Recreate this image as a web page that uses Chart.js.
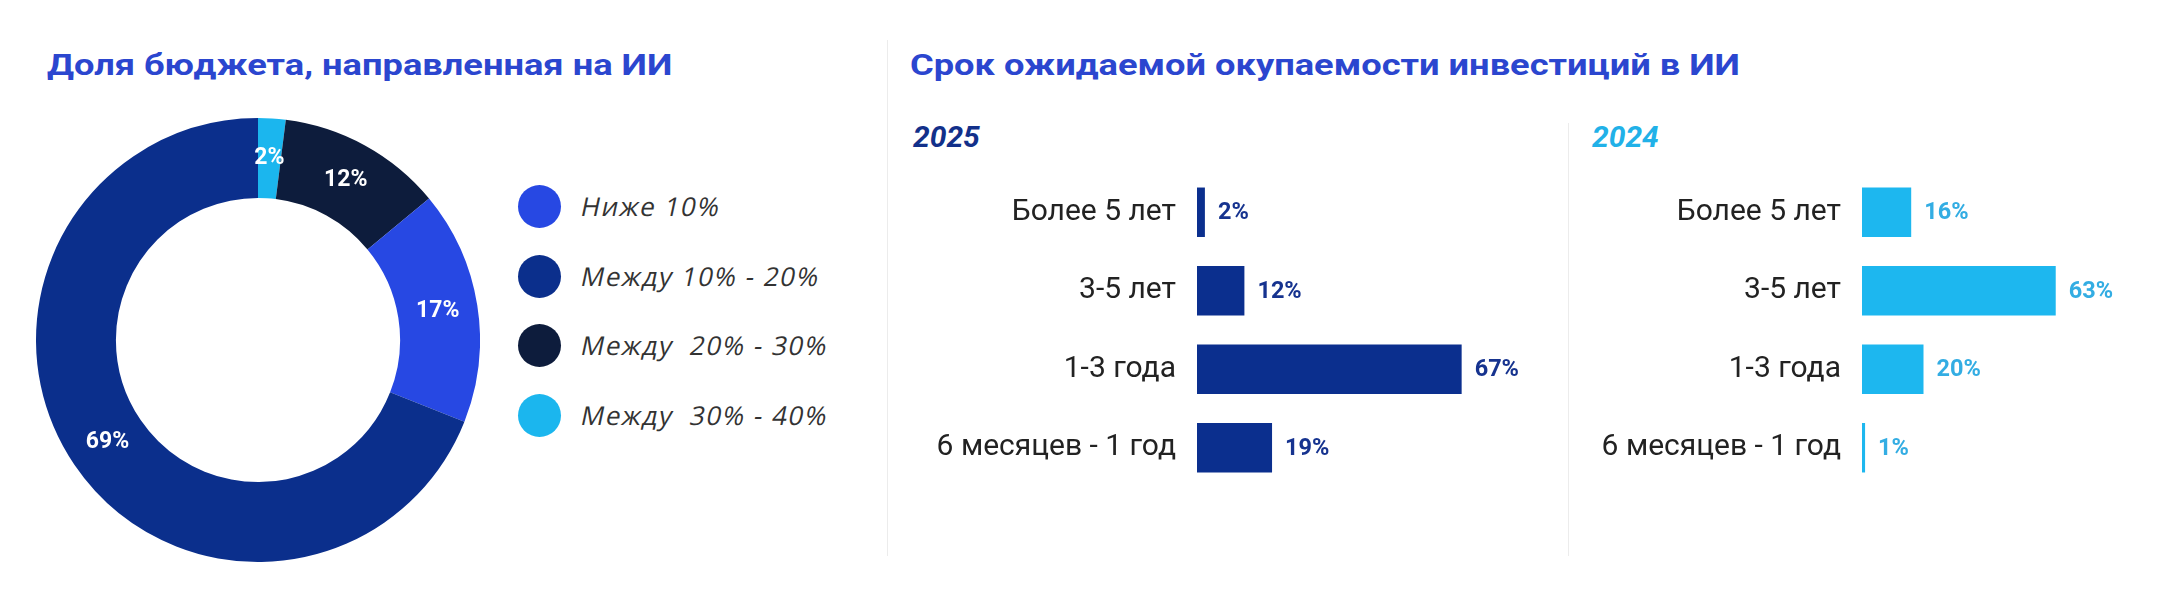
<!DOCTYPE html>
<html lang="ru">
<head>
<meta charset="utf-8">
<title>ИИ: бюджет и окупаемость</title>
<script src="https://cdn.jsdelivr.net/npm/chart.js@4.4.1/dist/chart.umd.min.js"></script>
<style>
  html, body { margin: 0; padding: 0; background: #fff; }
  body { width: 2160px; height: 603px; position: relative; overflow: hidden; font-family: Roboto, "Liberation Sans", sans-serif; }
  .title { position: absolute; font-weight: bold; font-size: 29px; line-height: 29px; color: #2b46cf; white-space: nowrap; transform: scaleX(1.25); transform-origin: left center; }
  .year { position: absolute; font-weight: bold; font-style: italic; font-size: 30px; line-height: 30px; white-space: nowrap; }
  .divider { position: absolute; width: 1px; background: #ececec; }
  canvas { position: absolute; }
  #legend { position: absolute; left: 518px; top: 185px; margin: 0; padding: 0; list-style: none; }
  #legend li { height: 69.5px; display: flex; align-items: flex-start; }
  #legend span.dot { width: 43px; height: 43px; border-radius: 50%; display: inline-block; }
  #legend span.txt { display: inline-block; margin-left: 16px; font-family: "Open Sans", Lato, sans-serif; font-size: 26px; line-height: 43px; color: #333; white-space: pre; letter-spacing: 1.5px; transform: skewX(-12deg); transform-origin: left bottom; }
</style>
</head>
<body>
<div class="title" style="left:47px; top:51px;">Доля бюджета, направленная на ИИ</div>
<div class="title" style="left:910px; top:51px;">Срок ожидаемой окупаемости инвестиций в ИИ</div>
<div class="divider" style="left:887px; top:40px; height:516px;"></div>
<div class="divider" style="left:1568px; top:123px; height:433px;"></div>
<div class="year" style="left:913px; top:122px; color:#12308a;">2025</div>
<div class="year" style="left:1592px; top:122px; color:#21b1e8;">2024</div>

<canvas id="donut" width="444" height="444" style="left:36px; top:118px;"></canvas>
<ul id="legend"></ul>
<canvas id="bars2025" width="663" height="340" style="left:890px; top:160px;"></canvas>
<canvas id="bars2024" width="583" height="340" style="left:1570px; top:160px;"></canvas>

<script>
// доля бюджета (по часовой стрелке от 12 часов)
const budgetLabels = ["Между  30% - 40%", "Между  20% - 30%", "Ниже 10%", "Между 10% - 20%"];
const budgetValues = [2, 12, 17, 69];
const budgetColors = ["#1bb6ee", "#0d1c3c", "#2748e3", "#0b2f8c"];
const legendOrder = ["Ниже 10%", "Между 10% - 20%", "Между  20% - 30%", "Между  30% - 40%"];

// срок окупаемости
const paybackLabels = ["Более 5 лет", "3-5 лет", "1-3 года", "6 месяцев - 1 год"];
const values2025 = [2, 12, 67, 19];
const values2024 = [16, 63, 20, 1];

// легенда
const legendEl = document.getElementById("legend");
legendOrder.forEach(name => {
  const i = budgetLabels.indexOf(name);
  const li = document.createElement("li");
  li.innerHTML = `<span class="dot" style="background:${budgetColors[i]}"></span><span class="txt"></span>`;
  li.querySelector(".txt").textContent = name;
  legendEl.appendChild(li);
});

const arcLabels = {
  id: "arcLabels",
  afterDatasetsDraw(chart) {
    const ctx = chart.ctx;
    const meta = chart.getDatasetMeta(0);
    ctx.save();
    ctx.font = "bold 23px Roboto";
    ctx.fillStyle = "#fff";
    ctx.textAlign = "center";
    ctx.textBaseline = "middle";
    meta.data.forEach((arc, i) => {
      const p = arc.tooltipPosition();
      ctx.fillText(chart.data.datasets[0].data[i] + "%", p.x, p.y);
    });
    ctx.restore();
  }
};

new Chart(document.getElementById("donut"), {
  type: "doughnut",
  data: {
    labels: budgetLabels,
    datasets: [{
      data: budgetValues,
      backgroundColor: budgetColors,
      borderWidth: 0
    }]
  },
  options: {
    responsive: false,
    animation: false,
    cutout: "64%",
    plugins: { legend: { display: false }, tooltip: { enabled: false } }
  },
  plugins: [arcLabels]
});

const barValues = {
  id: "barValues",
  afterDatasetsDraw(chart) {
    const ctx = chart.ctx;
    const meta = chart.getDatasetMeta(0);
    ctx.save();
    ctx.font = "bold 23.5px Roboto";
    ctx.fillStyle = chart.options.valueColor;
    ctx.textAlign = "left";
    ctx.textBaseline = "middle";
    meta.data.forEach((bar, i) => {
      ctx.fillText(chart.data.datasets[0].data[i] + "%", bar.x + 13, bar.y + 1);
    });
    ctx.restore();
  }
};

function makeBars(id, values, color, labelColor, axisWidth, padRight) {
  return new Chart(document.getElementById(id), {
    type: "bar",
    data: {
      labels: paybackLabels,
      datasets: [{
        data: values,
        backgroundColor: color,
        borderWidth: 0,
        categoryPercentage: 1,
        barPercentage: 0.63
      }]
    },
    options: {
      responsive: false,
      animation: false,
      indexAxis: "y",
      valueColor: labelColor,
      layout: { padding: { top: 13, bottom: 13, right: padRight, left: 0 } },
      scales: {
        x: { display: false, min: 0, max: 80 },
        y: {
          grid: { display: false },
          border: { display: false },
          ticks: { font: { family: "Roboto", size: 30 }, color: "#222", padding: 13 },
          afterFit(scale) {
            scale.width = axisWidth;
            scale.paddingTop = 0;
            scale.paddingBottom = 0;
          }
        }
      },
      plugins: { legend: { display: false }, tooltip: { enabled: false } }
    },
    plugins: [barValues]
  });
}

makeBars("bars2025", values2025, "#0b2f8e", "#16338f", 307, 40);
makeBars("bars2024", values2024, "#1db7ef", "#33ade3", 292, 45);
</script>
</body>
</html>
